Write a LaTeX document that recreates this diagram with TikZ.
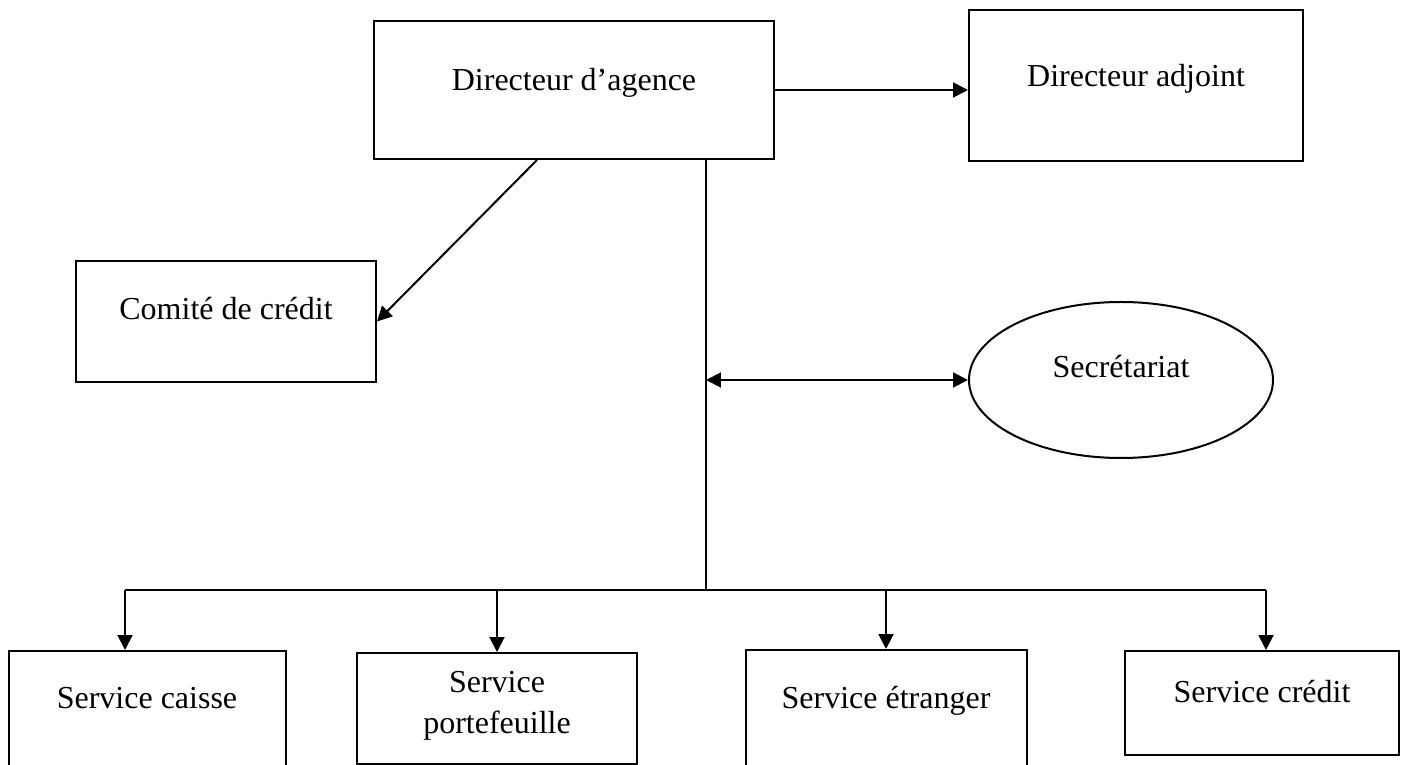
\documentclass[tikz,border=0pt]{standalone}
\usepackage{fontspec}
\setmainfont{Liberation Serif}
\usetikzlibrary{arrows.meta,calc,shapes.geometric}

\begin{document}
\begin{tikzpicture}[x=0.375pt, y=-0.375pt,
	box/.style={draw, line width=0.75pt, inner sep=0pt, anchor=base, font=\fontsize{12}{14}\selectfont},
	link/.style={line width=0.75pt, -{Triangle[length=5.6pt,width=5.6pt]}},
	plainline/.style={line width=0.75pt}]
			%%%%% START %%%%%
			\useasboundingbox (0,0) rectangle (1406,765);
			
			\node[box, minimum width=150pt, text height=26.25pt, text depth=25.5pt] (dir) at (574,91) {Directeur d’agence};
			\node[box, minimum width=125.25pt, text height=28.875pt, text depth=27.75pt] (adj) at (1136,87) {Directeur adjoint};
			\node[box, minimum width=112.5pt, text height=22.125pt, text depth=23.25pt] (comite) at (226,320) {Comité de crédit};
			\node[box, ellipse, minimum width=114pt, minimum height=58.5pt, text height=9pt, text depth=10.5pt] (secr) at (1121,378) {Secrétariat};
			
			\node[box, minimum width=103.875pt, text height=21.375pt, text depth=30.75pt] (caisse) at (147,708) {Service caisse};
			\node[box, minimum width=105pt, text height=14.625pt, text depth=27pt] (porte) at (497,692) {\parbox[t]{105pt}{\centering\baselineskip=15.375pt Service\\portefeuille}};
			\node[box, minimum width=105.375pt, text height=21.75pt, text depth=30.75pt] (etr) at (886,708) {Service étranger};
			\node[box, minimum width=102.75pt, text height=19.125pt, text depth=19.875pt] (cred) at (1262,702) {Service crédit};
			
			\draw[link] (dir.east) -- (dir.east -| adj.west);
			\draw[link] ([xshift=-13.875pt]dir.south) -- (comite.east);
			
			\coordinate (hub) at (706,590);
			\coordinate (barL) at (125,590);
			\coordinate (barR) at (1266,590);
			\draw[line width=0.6pt] (dir.south -| hub) -- (hub);
			\draw[link, {Triangle[length=5.6pt,width=5.6pt]}-{Triangle[length=5.6pt,width=5.6pt]}] (hub |- secr.west) -- (secr.west);
			
			\draw[plainline] (barL) -- (barR);
			\draw[link] (barL) -- (barL |- caisse.north);
			\foreach \b in {porte,etr}
				\draw[link] (\b.north |- hub) -- (\b.north);
			\draw[link] (barR) -- (barR |- cred.north);
			%%%%% END %%%%%
\end{tikzpicture}
\end{document}
